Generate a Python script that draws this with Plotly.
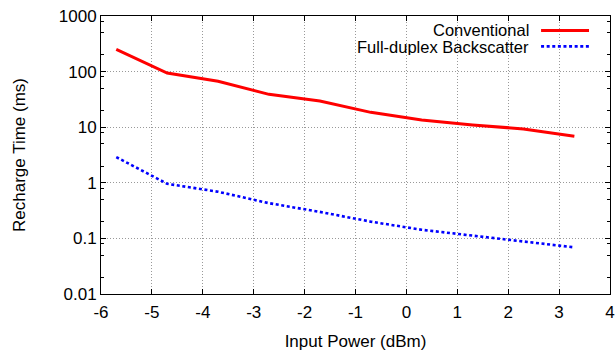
import plotly.graph_objects as go

x_power = [-5.7, -4.7, -3.7, -2.7, -1.7, -0.7, 0.3, 1.3, 2.3, 3.3]
conventional = [250, 94, 67, 39, 29.5, 18.5, 13.5, 11.0, 9.3, 6.9]
full_duplex = [2.9, 0.96, 0.69, 0.43, 0.30, 0.20, 0.143, 0.112, 0.088, 0.069]

x_ticks = [-6, -5, -4, -3, -2, -1, 0, 1, 2, 3, 4]
x_ticktext = ["-6", "-5", "-4", "-3", "-2", "-1", "0", "1", "2", "3", "4"]
y_ticks = [0.01, 0.1, 1, 10, 100, 1000]
y_ticktext = ["0.01", "0.1", "1", "10", "100", "1000"]
y_minor = [d * m for d in [0.01, 0.1, 1, 10, 100] for m in (2, 5, 8)]

FONT = "Liberation Sans, Arial, Helvetica, sans-serif"
L, R, T, B = 100.5, 6, 15.5, 57.5
W, H = 616, 352
PW, PH = W - L - R, H - T - B


def px(xp):
    return (xp - L) / PW


def py(yp):
    return (H - B - yp) / PH


fig = go.Figure()
fig.add_trace(go.Scatter(x=x_power, y=conventional, mode="lines", name="Conventional",
                         line=dict(color="#ff0000", width=3)))
fig.add_trace(go.Scatter(x=x_power, y=full_duplex, mode="lines", name="Full-duplex Backscatter",
                         line=dict(color="#0000ff", width=2.6, dash="3px,2.6px")))

fig.update_layout(
    width=W, height=H,
    margin=dict(l=L, r=R, t=T, b=B, autoexpand=False),
    paper_bgcolor="white", plot_bgcolor="white",
    showlegend=False,
    font=dict(family=FONT, size=17, color="black"),
)
fig.update_xaxes(
    range=[-6, 4], tickvals=x_ticks, ticktext=x_ticktext, ticks="inside", ticklen=5, tickcolor="black",
    showline=True, linecolor="black", linewidth=1, mirror="ticks",
    showgrid=True, gridcolor="#999999", griddash="1px,2px", gridwidth=1,
    zeroline=False, ticklabelstandoff=3,
    title=dict(text="Input Power (dBm)", standoff=13, font=dict(size=17)),
    tickfont=dict(size=17),
)
fig.update_yaxes(
    type="log", range=[-2, 3], tickvals=y_ticks, ticktext=y_ticktext,
    ticks="inside", ticklen=5, tickcolor="black",
    showline=True, linecolor="black", linewidth=1, mirror="ticks",
    showgrid=True, gridcolor="#999999", griddash="1px,2px", gridwidth=1,
    zeroline=False,
    minor=dict(tickvals=y_minor, ticks="inside", ticklen=3, tickcolor="black", showgrid=False),
    title=dict(text="Recharge Time (ms)", standoff=28, font=dict(size=17)),
    tickfont=dict(size=17),
)

# legend (text right-aligned, sample on the right, gnuplot style)
fig.add_annotation(xref="paper", yref="paper", x=px(530), y=py(29.5),
                   text="Conventional", showarrow=False, xanchor="right", yanchor="middle",
                   font=dict(size=16.5), height=17, borderpad=0)
fig.add_annotation(xref="paper", yref="paper", x=px(530), y=py(46.5),
                   text="Full-duplex Backscatter", showarrow=False, xanchor="right", yanchor="middle",
                   font=dict(size=16.5), height=17, borderpad=0)
fig.add_shape(type="line", xref="paper", yref="paper",
              x0=px(541), x1=px(589), y0=py(30), y1=py(30),
              line=dict(color="#ff0000", width=3))
fig.add_shape(type="line", xref="paper", yref="paper",
              x0=px(541), x1=px(589), y0=py(46), y1=py(46),
              line=dict(color="#0000ff", width=2.6, dash="3px,2.6px"))

fig.write_html("out.html", config={"displayModeBar": False},
               post_script="document.body.style.margin='0';document.body.style.overflow='hidden';")
